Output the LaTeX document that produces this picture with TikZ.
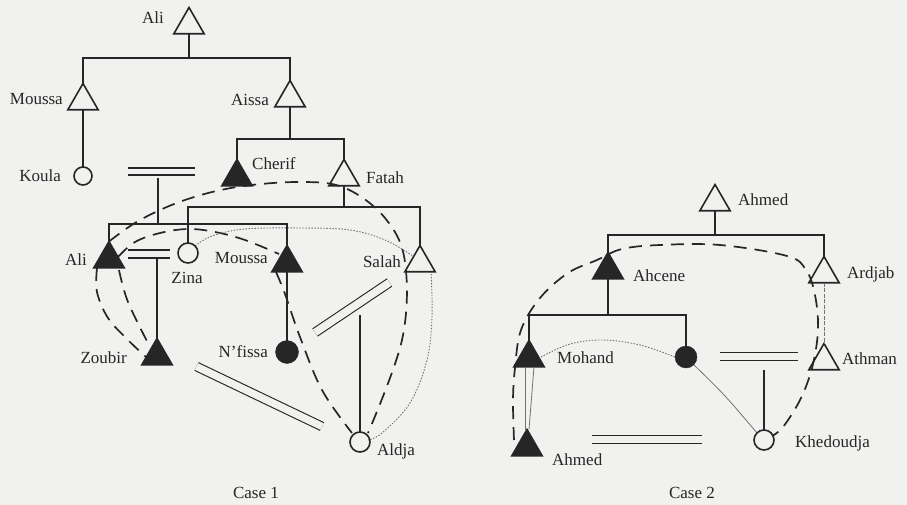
\documentclass[tikz,border=0pt]{standalone}
\usepackage{fontspec}
\setmainfont{Liberation Serif}
\usetikzlibrary{shapes.geometric}
\definecolor{bg}{RGB}{241,241,239}
\definecolor{ink}{RGB}{38,38,38}
\definecolor{faintc}{RGB}{115,115,115}
\pgfdeclarelayer{back}
\pgfdeclarelayer{curves}
\pgfsetlayers{back,curves,main}
\tikzset{
 tri/.style={regular polygon, regular polygon sides=3, minimum size=35pt, inner sep=0pt, outer sep=0pt, draw=ink, line width=1.6pt},
 trif/.style={tri, fill=ink},
 ocirc/.style={circle, draw=ink, line width=1.6pt, minimum size=19pt, inner sep=0pt, outer sep=0pt},
 fcirc/.style={circle, fill=ink, draw=ink, minimum size=23pt, inner sep=0pt, outer sep=0pt},
 lbl/.style={inner sep=0pt, text=ink, font=\fontsize{17}{18}\selectfont},
 kin/.style={draw=ink, line width=1.1pt},
 marr/.style={draw=ink, line width=1.1pt, double=bg, double distance=#1},
 marr/.default=7pt,
 rel/.style={draw=ink, line width=1.7pt, dash pattern=on 13pt off 8pt},
 dotrel/.style={draw=faintc, line width=0.9pt, dash pattern=on 1.5pt off 1.5pt},
 faint/.style={draw=faintc, line width=0.8pt},
}
\begin{document}
\begin{tikzpicture}[x=1pt,y=-1pt]
\begin{pgfonlayer}{back}
\fill[bg] (0,0) rectangle (907,505);
\end{pgfonlayer}
\path[use as bounding box] (0,0) rectangle (907,505);

% ---------------- Case 1 ----------------
\node[tri]  (AliT)   at (189,25)  {};
\node[tri]  (Mou1)   at (83,101)  {};
\node[tri]  (Aissa)  at (290,98)  {};
\node[ocirc,minimum size=18pt] (Koula) at (83,176) {};
\node[trif] (Cherif) at (237,177) {};
\node[tri]  (Fatah)  at (344,177) {};
\node[trif] (Ali2)   at (109,259) {};
\node[ocirc,minimum size=20pt] (Zina) at (188,253) {};
\node[trif] (Mou2)   at (287,263) {};
\node[tri]  (Salah)  at (420,263) {};
\node[trif] (Zoubir) at (157,356) {};
\node[fcirc] (Nfissa) at (287,352) {};
\node[ocirc,minimum size=20pt] (Aldja) at (360,442) {};

\node[lbl,anchor=base east] (tAliT) at (164,24) {Ali};
\node[lbl,anchor=base east] (tMou1) at (63,105) {Moussa};
\node[lbl,anchor=base east] (tAissa) at (269,106) {Aissa};
\node[lbl,anchor=base east] (tKoula) at (61,182) {Koula};
\node[lbl,anchor=base west] (tCherif) at (252,170) {Cherif};
\node[lbl,anchor=base west] (tFatah) at (366,184) {Fatah};
\node[lbl,anchor=base east] (tAli2) at (87,265) {Ali};
\node[lbl,anchor=base] (tZina) at (187,283) {Zina};
\node[lbl,anchor=base east] (tMou2) at (268,263) {Moussa};
\node[lbl,anchor=base east] (tSalah) at (401,267) {Salah};
\node[lbl,anchor=base east] (tZoubir) at (127,363) {Zoubir};
\node[lbl,anchor=base east] (tNfissa) at (268,357) {N’fissa};
\node[lbl,anchor=base west] (tAldja) at (377,455) {Aldja};
\node[lbl,anchor=base] (tCase1) at (256,498) {Case 1};

\coordinate (s1) at (189,58);
\draw[kin] (AliT.south) -- (s1);
\draw[kin] (Mou1.north) |- (s1) -| (Aissa.north);
\draw[kin] (Mou1.south) -- (Koula.north);
\coordinate (s2) at (290,139);
\draw[kin] (Aissa.south) -- (s2);
\draw[kin] (Cherif.north) |- (s2) -| (Fatah.north);
\coordinate (s3) at (344,207);
\draw[kin] (Fatah.south) -- (s3);
\draw[kin] (Zina.north) |- (s3) -| (Salah.north);

\coordinate (m1a) at (128,171.5);
\coordinate (m1b) at (195,171.5);
\draw[marr=5.9pt] (m1a) -- (m1b);
\coordinate (m1c) at (158,178);
\coordinate (s4) at (158,224);
\draw[kin] (m1c) -- (s4);
\draw[kin] (Ali2.north) |- (s4) -| (Mou2.north);

\coordinate (m2a) at (128,254);
\coordinate (m2b) at (170,254);
\draw[marr=6.9pt] (m2a) -- (m2b);
\coordinate (m2c) at (157,258.5);
\draw[kin] (m2c) -- (Zoubir.north);
\draw[kin] (Mou2.south) -- (Nfissa.north);

\coordinate (m3a) at (315,332.5);
\coordinate (m3b) at (389.5,282.5);
\draw[marr=7.6pt] (m3a) -- (m3b);
\coordinate (m3c) at (360,315);
\draw[kin] (m3c) -- (Aldja.north);

\coordinate (m4a) at (196.5,366.5);
\coordinate (m4b) at (322,426.5);
\draw[marr=7.4pt] (m4a) -- (m4b);

\begin{pgfonlayer}{curves}
\draw[rel] plot[smooth,tension=0.6] coordinates {(Ali2.north) (140,220) (185,200) (237,187) (300,182) (345,188) (385,218) (405,262) (402,340) (368,433)};
\draw[rel] plot[smooth,tension=0.6] coordinates {(118,257) (135,242) (160,233) (188,229) (215,232) (245,240) (279,254)};
\draw[rel] plot[smooth,tension=0.6] coordinates {(97,268) (97,292) (108,318) (128,340) (146,357)};
\draw[rel] plot[smooth,tension=0.6] coordinates {(119,270) (128,302) (150,347)};
\draw[rel] plot[smooth,tension=0.6] coordinates {(276,272) (285,294) (300,337) (322,390) (352,433)};
\draw[dotrel] plot[smooth,tension=0.6] coordinates {(Zina.north east) (212,236) (245,229) (300,228) (350,230) (385,240) (413,256)};
\draw[dotrel] plot[smooth,tension=0.6] coordinates {(431,271) (432,317) (427,360) (410,403) (382,433) (368,440)};
\end{pgfonlayer}

% ---------------- Case 2 ----------------
\node[tri]  (AhmT)   at (715,202) {};
\node[trif] (Ahcene) at (608,270) {};
\node[tri]  (Ardjab) at (824,274) {};
\node[trif] (Mohand) at (529,358) {};
\node[fcirc,minimum size=22pt] (Circ2) at (686,357) {};
\node[tri]  (Athman) at (824,361) {};
\node[ocirc,minimum size=20pt] (Khed) at (764,440) {};
\node[trif] (Ahm2)   at (527,447) {};

\node[lbl,anchor=base west] (tAhmT) at (738,205) {Ahmed};
\node[lbl,anchor=base west] (tAhcene) at (633,281) {Ahcene};
\node[lbl,anchor=base west] (tArdjab) at (847,278) {Ardjab};
\node[lbl,anchor=base west] (tMohand) at (557,363) {Mohand};
\node[lbl,anchor=base west] (tAthman) at (842,364) {Athman};
\node[lbl,anchor=base west] (tKhed) at (795,447) {Khedoudja};
\node[lbl,anchor=base west] (tAhm2) at (552,465) {Ahmed};
\node[lbl,anchor=base] (tCase2) at (692,498) {Case 2};

\coordinate (s5) at (715,235);
\draw[kin] (AhmT.south) -- (s5);
\draw[kin] (Ahcene.north) |- (s5) -| (Ardjab.north);
\coordinate (s6) at (608,315);
\draw[kin] (Ahcene.south) -- (s6);
\draw[kin] (Mohand.north) |- (s6) -| (Circ2.north);

\coordinate (m5a) at (720,356.5);
\coordinate (m5b) at (798,356.5);
\draw[marr=7.4pt] (m5a) -- (m5b);
\coordinate (m5c) at (764,370);
\draw[kin] (m5c) -- (Khed.north);

\coordinate (m6a) at (592,439.5);
\coordinate (m6b) at (702,439.5);
\draw[marr=7.4pt] (m6a) -- (m6b);

\draw[faint,dash pattern=on 4pt off 1.5pt] (Ardjab.south) -- (Athman.north);
\draw[faint] ([xshift=-4pt]Mohand.south) -- ([xshift=-2pt]Ahm2.north);
\draw[faint] ([xshift=5pt]Mohand.south) -- ([xshift=2pt]Ahm2.north);

\begin{pgfonlayer}{curves}
\draw[rel] plot[smooth,tension=0.6] coordinates {(514,440) (513,400) (515,368) (521,330) (540,298) (568,273) (597,260) (622,249) (660,245) (720,245) (787,256) (806,270) (815,295) (818,330) (812,368) (800,400) (783,427) (772,436)};
\draw[dotrel] plot[smooth,tension=0.6] coordinates {(541,357) (570,344) (603,340) (640,345) (Circ2.west)};
\draw[faint] plot[smooth,tension=0.6] coordinates {(Circ2.south east) (725,396) (Khed.north west)};
\end{pgfonlayer}
\end{tikzpicture}
\end{document}
